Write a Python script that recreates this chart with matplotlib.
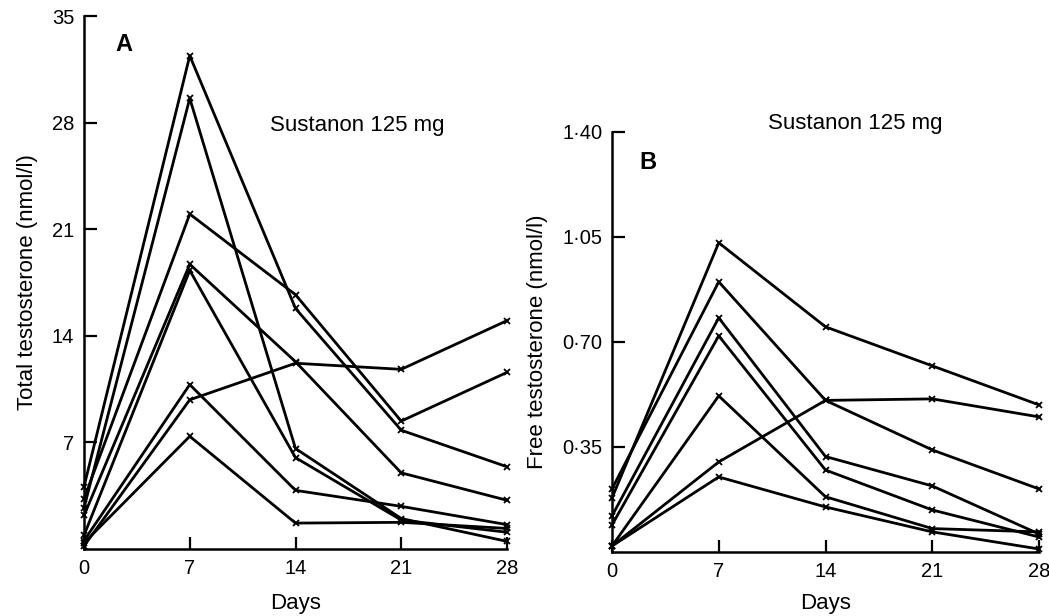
import matplotlib.pyplot as plt

plt.rcParams['font.family'] = ['Liberation Sans', 'DejaVu Sans']

days = [0, 7, 14, 21, 28]

# A: total testosterone (nmol/l), one list per subject
total = [
    [4.1, 32.4, 15.8, 7.8, 5.4],
    [2.7, 29.6, 6.6, 2.0, 0.5],
    [3.3, 22.0, 16.7, 8.4, 11.6],
    [2.2, 18.7, 12.3, 5.0, 3.2],
    [0.9, 18.3, 6.0, 1.9, 1.1],
    [0.55, 10.8, 3.85, 2.8, 1.6],
    [0.2, 9.8, 12.2, 11.8, 15.0],
    [0.4, 7.4, 1.7, 1.75, 1.35],
]

# B: free testosterone (nmol/l)
free = [
    [0.18, 1.03, 0.75, 0.62, 0.49],
    [0.21, 0.90, 0.505, 0.34, 0.21],
    [0.12, 0.78, 0.318, 0.22, 0.06],
    [0.09, 0.72, 0.273, 0.14, 0.05],
    [0.02, 0.52, 0.184, 0.078, 0.067],
    [0.02, 0.30, 0.505, 0.51, 0.45],
    [0.02, 0.25, 0.15, 0.067, 0.01],
]

ticks_a = [7, 14, 21, 28, 35]
ticks_b = [0.35, 0.70, 1.05, 1.40]
labels_b = ['0·35', '0·70', '1·05', '1·40']

fig = plt.figure(figsize=(10.49, 6.16), dpi=100)
ax1 = fig.add_axes([0.0801, 0.1088, 0.4032, 0.865])
ax2 = fig.add_axes([0.5834, 0.1039, 0.4071, 0.6823])

for ax, data in [(ax1, total), (ax2, free)]:
    for y in data:
        ax.plot(days, y, color='black', lw=2.0, marker='x', ms=4.5, mew=1.3, clip_on=False)
    ax.spines['top'].set_visible(False)
    ax.spines['right'].set_visible(False)
    ax.spines['left'].set_linewidth(1.8)
    ax.spines['bottom'].set_linewidth(1.8)
    ax.set_xlim(0, 28)
    ax.set_xticks(days)
    ax.tick_params(direction='in', length=9, width=1.6, labelsize=14.5, pad=7)

ax1.set_xlabel('Days', fontsize=16, labelpad=11)
ax2.set_xlabel('Days', fontsize=16, labelpad=9)

ax1.set_ylim(0, 35)
ax1.set_yticks(ticks_a)
ax1.set_ylabel('Total testosterone (nmol/l)', fontsize=16, labelpad=10)
ax1.text(0.074, 0.946, 'A', transform=ax1.transAxes, fontsize=17, fontweight='bold', va='center')
ax1.text(0.645, 0.795, 'Sustanon 125 mg', transform=ax1.transAxes, fontsize=16, ha='center', va='center')

ax2.set_ylim(0, 1.40)
ax2.set_yticks(ticks_b)
ax2.set_yticklabels(labels_b)
ax2.set_ylabel('Free testosterone (nmol/l)', fontsize=16, labelpad=10)
ax2.text(0.064, 0.926, 'B', transform=ax2.transAxes, fontsize=17, fontweight='bold', va='center')
ax2.text(0.57, 1.02, 'Sustanon 125 mg', transform=ax2.transAxes, fontsize=16, ha='center', va='center')

fig.savefig('out.png', dpi=100)
